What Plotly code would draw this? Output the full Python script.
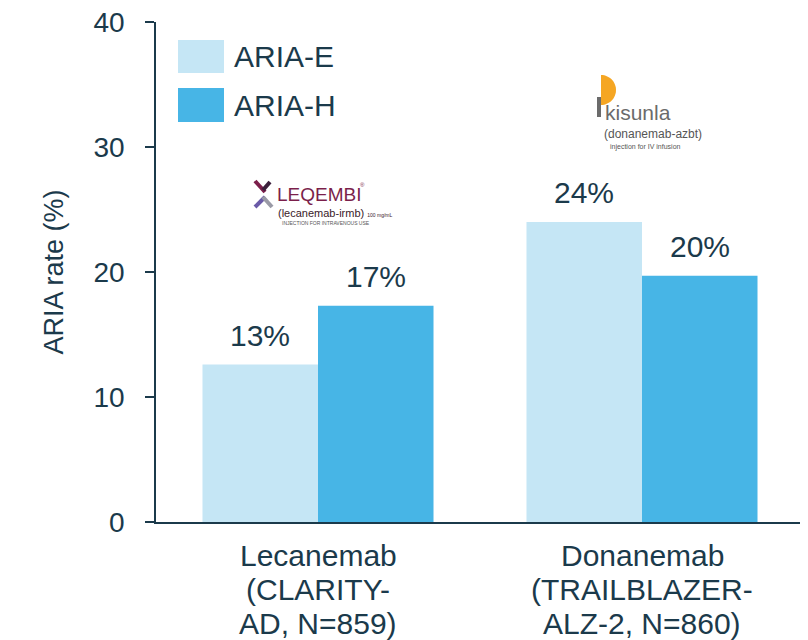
import plotly.graph_objects as go
import numpy as np

# data
categories = ["Lecanemab", "Donanemab"]
category_lines = [["Lecanemab", "(CLARITY-", "AD, N=859)"],
                  ["Donanemab", "(TRAILBLAZER-", "ALZ-2, N=860)"]]
aria_e = [12.6, 24.0]
aria_h = [17.3, 19.7]
label_e = ["13%", "24%"]
label_h = ["17%", "20%"]

DARK = "#1b3a4b"
C_E = "#c5e6f5"
C_H = "#47b5e6"
FONT = "Liberation Sans, Arial, sans-serif"

# page has an 8px body margin, so figure is 800x632 drawn at (8, 8)
OFF = 8
W, H = 808 - OFF, 640 - OFF
# plot area in screen pixels (for placing decorations)
L, R, T, B = 156, 804, 22, 522


def px(x):
    return (x - L) / (R - L)


def py(y):
    return (B - y) / (B - T)


fig = go.Figure()
fig.add_trace(go.Bar(x=categories, y=aria_e, name="ARIA-E", marker=dict(color=C_E, line=dict(width=0))))
fig.add_trace(go.Bar(x=categories, y=aria_h, name="ARIA-H", marker=dict(color=C_H, line=dict(width=0))))

# value labels above bars
for i, c in enumerate(categories):
    for val, lab, shift in [(aria_e[i], label_e[i], -58), (aria_h[i], label_h[i], 58)]:
        fig.add_annotation(x=c, y=val, text=lab, showarrow=False, xshift=shift, yshift=11,
                           yanchor="bottom", font=dict(size=30, color=DARK, family=FONT))

# category labels (one annotation per line for tighter spacing)
for c, lines in zip(categories, category_lines):
    for k, ln in enumerate(lines):
        fig.add_annotation(x=c, xref="x", yref="paper", y=py(555 + 34 * k), text=ln, showarrow=False,
                           yanchor="middle", font=dict(size=30, color=DARK, family=FONT))

# manual legend
for (y0, y1, col, name) in [(40, 73, C_E, "ARIA-E"), (88, 122, C_H, "ARIA-H")]:
    fig.add_shape(type="rect", xref="paper", yref="paper", x0=px(178), x1=px(224),
                  y0=py(y1), y1=py(y0), fillcolor=col, line=dict(width=0))
    fig.add_annotation(xref="paper", yref="paper", x=px(232), y=py((y0 + y1) / 2), text=name,
                       showarrow=False, xanchor="left", yanchor="middle",
                       font=dict(size=30, color=DARK, family=FONT))

# LEQEMBI logo (approximation)
for (x0, y0, x1, y1, col) in [(255, 181, 265, 192, "#7b1f4b"), (270, 182, 263, 190, "#3b1f3b"),
                              (255, 207, 265, 197, "#6a5aa8"), (263, 197, 272, 207, "#9a9aa6")]:
    fig.add_shape(type="line", xref="paper", yref="paper", x0=px(x0), y0=py(y0), x1=px(x1), y1=py(y1),
                  line=dict(color=col, width=4))
fig.add_annotation(xref="paper", yref="paper", x=px(275), y=py(194), text="LEQEMBI", showarrow=False,
                   xanchor="left", yanchor="middle", font=dict(size=19, color="#7b1f4b", family=FONT))
fig.add_annotation(xref="paper", yref="paper", x=px(358), y=py(185), text="®", showarrow=False,
                   xanchor="left", yanchor="middle", font=dict(size=6, color="#7b1f4b", family=FONT))
fig.add_annotation(xref="paper", yref="paper", x=px(276), y=py(213),
                   text="(lecanemab-irmb) <span style='font-size:5px'>100 mg/mL</span>", showarrow=False,
                   xanchor="left", yanchor="middle", font=dict(size=11, color="#3a1a2a", family=FONT))
fig.add_annotation(xref="paper", yref="paper", x=px(280), y=py(223), text="INJECTION FOR INTRAVENOUS USE",
                   showarrow=False, xanchor="left", yanchor="middle",
                   font=dict(size=5, color="#555555", family=FONT))

# Kisunla logo (approximation)
t = np.linspace(-np.pi / 2, np.pi / 2, 30)
cx, cy, r = 601, 90, 15
pts = [(cx + r * np.cos(a), cy - r * np.sin(a)) for a in t]
path = "M " + " L ".join(f"{px(x):.4f},{py(y):.4f}" for x, y in pts) + " Z"
fig.add_shape(type="path", xref="paper", yref="paper", path=path, fillcolor="#f5a623", line=dict(width=0))
fig.add_shape(type="rect", xref="paper", yref="paper", x0=px(597), x1=px(601), y0=py(117), y1=py(97),
              fillcolor="#6b6b6b", line=dict(width=0))
fig.add_annotation(xref="paper", yref="paper", x=px(603), y=py(112), text="kisunla", showarrow=False,
                   xanchor="left", yanchor="middle", font=dict(size=21, color="#6b6b6b", family=FONT))
fig.add_annotation(xref="paper", yref="paper", x=px(602), y=py(134), text="(donanemab-azbt)", showarrow=False,
                   xanchor="left", yanchor="middle", font=dict(size=12, color="#555555", family=FONT))
fig.add_annotation(xref="paper", yref="paper", x=px(608), y=py(147), text="injection for IV infusion",
                   showarrow=False, xanchor="left", yanchor="middle",
                   font=dict(size=7, color="#555555", family=FONT))

fig.update_layout(
    width=W, height=H,
    margin=dict(l=L - OFF, r=W - (R - OFF), t=T - OFF, b=H - (B - OFF), autoexpand=False),
    paper_bgcolor="white", plot_bgcolor="white",
    barmode="group", bargap=0.287, bargroupgap=0,
    showlegend=False,
    font=dict(family=FONT, color=DARK, size=28),
    xaxis=dict(showline=True, linecolor=DARK, linewidth=2, ticks="", showgrid=False,
               showticklabels=False, range=[-0.5, 1.5], automargin=False),
    yaxis=dict(range=[0, 40], tickvals=[0, 10, 20, 30, 40], showline=True, linecolor=DARK, linewidth=1.5,
               ticks="outside", ticklen=9, tickcolor=DARK, tickwidth=1.5, showgrid=False, zeroline=False,
               tickfont=dict(size=28, color=DARK), ticklabelstandoff=15, ticklabeloverflow="allow",
               automargin=False,
               title=dict(text="ARIA rate (%)", font=dict(size=27, color=DARK), standoff=22)),
)

fig.write_html("out.html")
